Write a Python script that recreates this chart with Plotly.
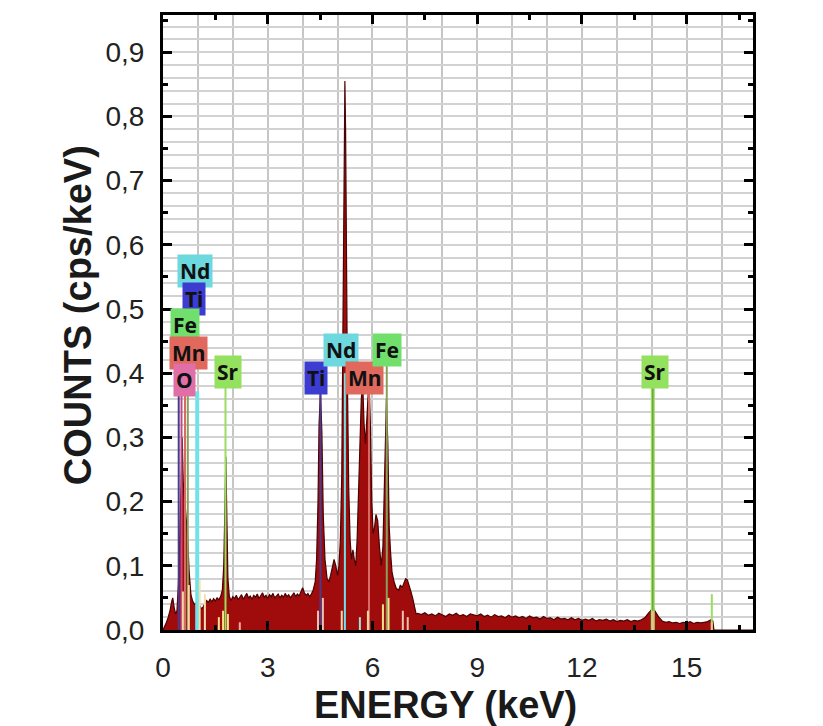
import plotly.graph_objects as go

# ---------------- DATA ----------------
# EDS spectrum: energy (keV) and counts (cps/keV)
spectrum_energy = [
    0.00, 0.05, 0.10, 0.15, 0.20, 0.25, 0.28, 0.32, 0.36, 0.40, 0.44, 0.48, 0.52, 0.55,
    0.58, 0.62, 0.66, 0.70, 0.75, 0.80, 0.85, 0.90, 0.95, 1.00, 1.05, 1.10, 1.15, 1.20,
    1.25, 1.30, 1.35, 1.40, 1.45, 1.50, 1.55, 1.60, 1.65, 1.70, 1.74, 1.77, 1.80, 1.83,
    1.86, 1.90, 1.95, 2.00, 2.05, 2.10, 2.15, 2.20, 2.25, 2.30, 2.35, 2.40, 2.45, 2.50,
    2.55, 2.60, 2.65, 2.70, 2.75, 2.80, 2.85, 2.90, 2.95, 3.00, 3.05, 3.10, 3.15, 3.20,
    3.25, 3.30, 3.35, 3.40, 3.45, 3.50, 3.55, 3.60, 3.65, 3.70, 3.75, 3.80, 3.85, 3.90,
    3.95, 4.00, 4.05, 4.10, 4.15, 4.20, 4.25, 4.30, 4.36, 4.40, 4.44, 4.47, 4.51, 4.55,
    4.59, 4.64, 4.70, 4.75, 4.80, 4.85, 4.90, 4.95, 5.00, 5.04, 5.08, 5.12, 5.15, 5.18,
    5.20, 5.21, 5.23, 5.25, 5.28, 5.32, 5.36, 5.40, 5.44, 5.48, 5.52, 5.56, 5.62, 5.68,
    5.72, 5.76, 5.80, 5.85, 5.90, 5.94, 5.98, 6.02, 6.06, 6.10, 6.15, 6.20, 6.25, 6.30,
    6.35, 6.40, 6.44, 6.48, 6.52, 6.56, 6.62, 6.68, 6.75, 6.80, 6.85, 6.90, 6.95, 7.00,
    7.05, 7.10, 7.15, 7.20, 7.25, 7.30, 7.40, 7.50, 7.60, 7.70, 7.80, 7.90, 8.00, 8.10,
    8.20, 8.30, 8.40, 8.50, 8.60, 8.70, 8.80, 8.90, 9.00, 9.10, 9.20, 9.30, 9.40, 9.50,
    9.60, 9.70, 9.80, 9.90, 10.00, 10.10, 10.20, 10.30, 10.40, 10.50, 10.60, 10.70,
    10.80, 10.90, 11.00, 11.10, 11.20, 11.30, 11.40, 11.50, 11.60, 11.70, 11.80, 11.90,
    12.00, 12.10, 12.20, 12.30, 12.40, 12.50, 12.60, 12.70, 12.80, 12.90, 13.00, 13.10,
    13.20, 13.30, 13.40, 13.50, 13.60, 13.70, 13.80, 13.90, 14.00, 14.05, 14.10, 14.20,
    14.30, 14.40, 14.50, 14.60, 14.70, 14.80, 14.90, 15.00, 15.10, 15.20, 15.30, 15.40,
    15.50, 15.60, 15.70, 15.75, 15.78, 16.90,
]
spectrum_counts = [
    0.000, 0.005, 0.012, 0.020, 0.030, 0.045, 0.050, 0.035, 0.025, 0.030, 0.070, 0.140, 0.240, 0.300,
    0.230, 0.200, 0.170, 0.150, 0.090, 0.055, 0.045, 0.040, 0.042, 0.046, 0.038, 0.033, 0.036, 0.040,
    0.046, 0.043, 0.048, 0.044, 0.049, 0.045, 0.050, 0.047, 0.052, 0.062, 0.100, 0.180, 0.270, 0.170,
    0.080, 0.052, 0.046, 0.052, 0.049, 0.054, 0.047, 0.051, 0.055, 0.048, 0.052, 0.057, 0.050, 0.053,
    0.048, 0.054, 0.051, 0.056, 0.049, 0.053, 0.058, 0.051, 0.054, 0.049, 0.055, 0.052, 0.057, 0.050,
    0.053, 0.056, 0.050, 0.054, 0.051, 0.057, 0.052, 0.055, 0.050, 0.054, 0.058, 0.052, 0.056, 0.053,
    0.060, 0.066, 0.058, 0.054, 0.057, 0.052, 0.056, 0.062, 0.075, 0.110, 0.200, 0.320, 0.370, 0.310,
    0.180, 0.110, 0.080, 0.075, 0.085, 0.100, 0.110, 0.100, 0.085, 0.100, 0.140, 0.240, 0.420, 0.620,
    0.800, 0.855, 0.780, 0.580, 0.400, 0.220, 0.140, 0.110, 0.125, 0.110, 0.100, 0.140, 0.260, 0.360,
    0.385, 0.320, 0.290, 0.340, 0.390, 0.320, 0.200, 0.150, 0.160, 0.180, 0.170, 0.130, 0.100, 0.130,
    0.230, 0.360, 0.290, 0.160, 0.120, 0.090, 0.075, 0.065, 0.062, 0.070, 0.066, 0.075, 0.080, 0.078,
    0.070, 0.060, 0.050, 0.035, 0.025, 0.026, 0.024, 0.027, 0.023, 0.025, 0.022, 0.026, 0.024, 0.021,
    0.025, 0.023, 0.026, 0.022, 0.024, 0.021, 0.025, 0.023, 0.022, 0.025, 0.021, 0.023, 0.020, 0.024,
    0.021, 0.022, 0.019, 0.023, 0.020, 0.022, 0.019, 0.021, 0.018, 0.022, 0.019, 0.020,
    0.017, 0.021, 0.018, 0.019, 0.016, 0.020, 0.017, 0.018, 0.016, 0.019, 0.016, 0.018,
    0.015, 0.017, 0.015, 0.018, 0.014, 0.016, 0.015, 0.017, 0.014, 0.016, 0.013, 0.015,
    0.014, 0.016, 0.013, 0.015, 0.014, 0.016, 0.019, 0.026, 0.032, 0.033, 0.028, 0.020,
    0.014, 0.012, 0.013, 0.011, 0.012, 0.010, 0.012, 0.011, 0.013, 0.010, 0.012, 0.011,
    0.012, 0.013, 0.016, 0.014, 0.000, 0.000,
]

# Element marker lines: element, energy (keV), marker height
line_element = ["Ti", "O", "Mn", "Fe", "Nd", "Sr", "Ti", "Nd", "Mn", "Fe", "Sr", "Sr"]
line_energy = [0.45, 0.53, 0.63, 0.71, 0.98, 1.79, 4.51, 5.21, 5.90, 6.41, 14.03, 15.72]
line_height = [0.372, 0.372, 0.372, 0.372, 0.372, 0.383, 0.375, 0.400, 0.375, 0.418, 0.383, 0.056]

# Faint minor marker lines near the baseline: energy, height
minor_energy = [0.57, 0.74, 1.05, 1.20, 1.60, 1.72, 1.86, 2.20, 4.44, 4.58, 5.12, 5.64,
                5.87, 6.30, 6.46, 6.87, 7.01, 14.03, 15.72]
minor_height = [0.060, 0.070, 0.078, 0.056, 0.020, 0.030, 0.025, 0.012, 0.030, 0.050, 0.030, 0.020,
                0.030, 0.040, 0.050, 0.030, 0.020, 0.030, 0.012]

# Element labels: text, x (keV), y (cps/keV)
label_text = ["Nd", "Ti", "Fe", "Mn", "O", "Sr", "Ti", "Nd", "Mn", "Fe", "Sr"]
label_x = [0.92, 0.89, 0.63, 0.74, 0.63, 1.86, 4.38, 5.10, 5.78, 6.41, 14.08]
label_y = [0.559, 0.516, 0.475, 0.432, 0.390, 0.402, 0.393, 0.436, 0.393, 0.436, 0.402]

x_tick_vals = [0, 3, 6, 9, 12, 15]
y_tick_vals = [0.0, 0.1, 0.2, 0.3, 0.4, 0.5, 0.6, 0.7, 0.8, 0.9]

# ---------------- STYLE ----------------
box_color = {"Nd": "#6dd8de", "Ti": "#3c3cd0", "Fe": "#70df6b", "Mn": "#e0685c",
             "O": "#df6fa6", "Sr": "#94e05f"}
stroke_color = {"Nd": "#6fe3ea", "Ti": "#4a3a8a", "Fe": "#8aa05a", "Mn": "#d86a64",
                "O": "#c04a86", "Sr": "#9ade60"}
minor_colors = ["#f2d9a6", "#f2d9a6", "#f2e0b0", "#f2e0b0", "#f6e08a", "#f6e08a", "#f6e08a",
                "#f0b0a0", "#f0c0b0", "#f0c0b0", "#f2d9a6", "#9fe0e0", "#f2d9a6", "#f6e08a",
                "#f6e08a", "#f0c0b0", "#f0c0b0", "#f0c090", "#f0c090"]

XR = [0, 16.9]
YR = [0, 0.958]

fig = go.Figure()

fig.add_trace(go.Scatter(
    x=spectrum_energy, y=spectrum_counts, mode="lines",
    line=dict(color="#4a0202", width=1.2), fill="tozeroy", fillcolor="#a00c0c",
    showlegend=False, hoverinfo="skip"))

for el, e, h in zip(line_element, line_energy, line_height):
    wide = (el == "Sr" and e > 10 and h > 0.1) or (el == "Nd" and e < 1)
    fig.add_trace(go.Scatter(x=[e, e], y=[0, h], mode="lines",
                             line=dict(color=stroke_color[el], width=4 if wide else 2),
                             showlegend=False, hoverinfo="skip"))
    if el == "Sr" and e > 10 and h > 0.1:
        fig.add_trace(go.Scatter(x=[e, e], y=[0, h], mode="lines",
                                 line=dict(color="#5f9a34", width=1.2),
                                 showlegend=False, hoverinfo="skip"))

for e, h, c in zip(minor_energy, minor_height, minor_colors):
    fig.add_trace(go.Scatter(x=[e, e], y=[0, h], mode="lines",
                             line=dict(color=c, width=2),
                             showlegend=False, hoverinfo="skip"))

# dummy trace for the overlay axes that carry ticks and labels
fig.add_trace(go.Scatter(x=[None], y=[None], xaxis="x2", yaxis="y2",
                         showlegend=False, hoverinfo="skip"))

for t, x, y in zip(label_text, label_x, label_y):
    fig.add_annotation(x=x, y=y, xref="x", yref="y", text=t, showarrow=False,
                       font=dict(family="Noto Sans", size=21, color="#111111", weight="bold"),
                       bgcolor=box_color[t], borderpad=2, xanchor="center", yanchor="middle")

fig.add_annotation(x=0.478, y=-0.122, xref="paper", yref="paper", text="<b>ENERGY (keV)</b>",
                   showarrow=False, font=dict(family="Liberation Sans", size=38, color="#1a1a1a"),
                   xanchor="center", yanchor="middle")
fig.add_annotation(x=-0.144, y=0.512, xref="paper", yref="paper", text="<b>COUNTS (cps/keV)</b>",
                   textangle=-90, showarrow=False,
                   font=dict(family="Liberation Sans", size=38, color="#1a1a1a"),
                   xanchor="center", yanchor="middle")

tickfont = dict(family="Liberation Sans", size=28, color="#222222")

# the page body adds an 8px offset, so the figure is 8px smaller on each side
fig.update_layout(
    width=815, height=718,
    margin=dict(l=155, r=70, t=7, b=96),
    paper_bgcolor="white", plot_bgcolor="white",
    separators=", ",
    xaxis=dict(range=XR, autorange=False, tick0=0, dtick=1, showgrid=True,
               gridcolor="#c6c6c6", gridwidth=1.6, showticklabels=False, ticks="",
               showline=False, zeroline=False, automargin=False),
    yaxis=dict(range=YR, autorange=False, tick0=0, dtick=0.02, showgrid=True,
               gridcolor="#d2d2d2", gridwidth=2, showticklabels=False, ticks="",
               showline=False, zeroline=False, automargin=False),
    xaxis2=dict(overlaying="x", anchor="y2", side="bottom", range=XR, autorange=False,
                tickmode="array", tickvals=x_tick_vals, ticks="inside", ticklen=9,
                tickwidth=3, tickcolor="black",
                minor=dict(dtick=1.5, tick0=0, ticks="inside", ticklen=5, tickwidth=3,
                           tickcolor="black", showgrid=False),
                showline=True, linewidth=3, linecolor="black", mirror="ticks",
                showgrid=False, zeroline=False, tickfont=tickfont, ticklabelstandoff=10,
                automargin=False),
    yaxis2=dict(overlaying="y", anchor="x2", side="left", range=YR, autorange=False,
                tickmode="array", tickvals=y_tick_vals, tickformat=".1f",
                ticks="inside", ticklen=9, tickwidth=3, tickcolor="black",
                minor=dict(dtick=0.05, tick0=0, ticks="inside", ticklen=5, tickwidth=3,
                           tickcolor="black", showgrid=False),
                showline=True, linewidth=3, linecolor="black", mirror="ticks",
                showgrid=False, zeroline=False, tickfont=tickfont, ticklabelstandoff=10,
                automargin=False),
)

fig.write_html("out.html")
